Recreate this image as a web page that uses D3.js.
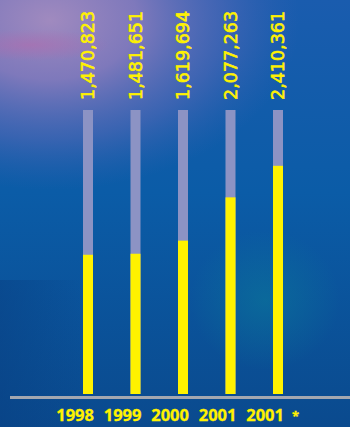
<!DOCTYPE html>
<html>
<head>
<meta charset="utf-8">
<script src="https://cdn.jsdelivr.net/npm/d3@7"></script>
<style>
  html, body { margin: 0; padding: 0; background: #0a5aa4; }
  #chart--wrap { width: 350px; height: 427px; }
  .value-label { font-family: 'DejaVu Sans', sans-serif; font-size: 17.5px; fill: #fff200; stroke: #fff200; stroke-width: 0.6px; }
  .year-label { font-family: 'Open Sans', Lato, sans-serif; font-weight: bold; font-size: 16.5px; fill: #fff200; stroke: #fff200; stroke-width: 0.3px; }
</style>
</head>
<body>
<div id="chart--wrap"></div>
<script>
const years = ['1998', '1999', '2000', '2001', '2001'];
const yearMarks = ['', '', '', '', '*'];
const totals = [1470823, 1481651, 1619694, 2077263, 2410361];
const yMax = 3000000;

const width = 350;
const height = 427;
const margin = { top: 110, bottom: 33, left: 88, right: 72 };
const barWidth = 10;

const wrap = d3.select('#chart--wrap');
const svg = wrap.append('svg')
  .attr('width', width)
  .attr('height', height);

// Background
const defs = svg.append('defs');

const baseGrad = defs.append('linearGradient')
  .attr('id', 'bg-base')
  .attr('x1', 0).attr('y1', 0).attr('x2', 0).attr('y2', 1);
baseGrad.append('stop').attr('offset', '0%').attr('stop-color', '#1a5cae');
baseGrad.append('stop').attr('offset', '45%').attr('stop-color', '#0b5ca7');
baseGrad.append('stop').attr('offset', '100%').attr('stop-color', '#0a4a8e');

const purple = defs.append('radialGradient')
  .attr('id', 'bg-purple')
  .attr('cx', 0.5).attr('cy', 0.5).attr('r', 0.5);
purple.append('stop').attr('offset', '0%').attr('stop-color', '#a08abf').attr('stop-opacity', 1);
purple.append('stop').attr('offset', '35%').attr('stop-color', '#8a7cbd').attr('stop-opacity', 0.9);
purple.append('stop').attr('offset', '70%').attr('stop-color', '#5a6ab8').attr('stop-opacity', 0.55);
purple.append('stop').attr('offset', '100%').attr('stop-color', '#3a62b2').attr('stop-opacity', 0);

const pink = defs.append('radialGradient')
  .attr('id', 'bg-pink')
  .attr('cx', 0.5).attr('cy', 0.5).attr('r', 0.5);
pink.append('stop').attr('offset', '0%').attr('stop-color', '#b06cae').attr('stop-opacity', 0.6);
pink.append('stop').attr('offset', '100%').attr('stop-color', '#b06cae').attr('stop-opacity', 0);

const teal = defs.append('radialGradient')
  .attr('id', 'bg-teal')
  .attr('cx', 0.5).attr('cy', 0.5).attr('r', 0.5);
teal.append('stop').attr('offset', '0%').attr('stop-color', '#0a7a9a').attr('stop-opacity', 0.55);
teal.append('stop').attr('offset', '100%').attr('stop-color', '#0a7a9a').attr('stop-opacity', 0);

const leftShade = defs.append('linearGradient')
  .attr('id', 'bg-left')
  .attr('x1', 0).attr('y1', 0).attr('x2', 1).attr('y2', 0);
leftShade.append('stop').attr('offset', '0%').attr('stop-color', '#083f82').attr('stop-opacity', 0.5);
leftShade.append('stop').attr('offset', '100%').attr('stop-color', '#083f82').attr('stop-opacity', 0);

svg.append('rect').attr('width', width).attr('height', height).attr('fill', 'url(#bg-base)');
svg.append('rect').attr('y', 280).attr('width', 90).attr('height', 147).attr('fill', 'url(#bg-left)');
svg.append('ellipse').attr('cx', 50).attr('cy', 20).attr('rx', 250).attr('ry', 170).attr('fill', 'url(#bg-purple)');
svg.append('ellipse').attr('cx', 30).attr('cy', 45).attr('rx', 80).attr('ry', 16).attr('fill', 'url(#bg-pink)');
svg.append('ellipse').attr('cx', 265).attr('cy', 300).attr('rx', 75).attr('ry', 70).attr('fill', 'url(#bg-teal)');

// Scales
const x = d3.scalePoint()
  .domain(d3.range(totals.length))
  .range([margin.left, width - margin.right]);

const y = d3.scaleLinear()
  .domain([0, yMax])
  .range([height - margin.bottom, margin.top]);

const group = svg.append('g');

// Track bars
group.selectAll('.track')
  .data(totals)
  .enter()
  .append('rect')
  .attr('class', 'track')
  .attr('x', (d, i) => x(i) - barWidth / 2)
  .attr('y', y(yMax))
  .attr('width', barWidth)
  .attr('height', y(0) - y(yMax))
  .attr('fill', '#8c93c4');

// Value bars
group.selectAll('.bar')
  .data(totals)
  .enter()
  .append('rect')
  .attr('class', 'bar')
  .attr('x', (d, i) => x(i) - barWidth / 2)
  .attr('y', d => y(d))
  .attr('width', barWidth)
  .attr('height', d => y(0) - y(d))
  .attr('fill', '#fff200');

// Value labels
const fmt = d3.format(',');
group.selectAll('.value-label')
  .data(totals)
  .enter()
  .append('text')
  .attr('class', 'value-label')
  .attr('transform', (d, i) => `translate(${x(i) + barWidth / 2 + 1}, ${y(yMax) - 10}) rotate(-90)`)
  .attr('text-anchor', 'start')
  .text(d => fmt(d));

// Axis line
svg.append('rect')
  .attr('x', 10)
  .attr('y', y(0) + 2)
  .attr('width', width - 10)
  .attr('height', 3)
  .attr('fill', '#a3a7b0');

// Year labels
group.selectAll('.year-label')
  .data(years)
  .enter()
  .append('text')
  .attr('class', 'year-label')
  .attr('x', (d, i) => x(i) + barWidth / 2 + 1)
  .attr('y', height - 6)
  .attr('text-anchor', 'end')
  .text(d => d);

group.selectAll('.year-mark')
  .data(yearMarks)
  .enter()
  .append('text')
  .attr('class', 'year-label')
  .attr('x', (d, i) => x(i) + barWidth / 2 + 9)
  .attr('y', height - 6)
  .style('font-size', '13px')
  .text(d => d);
</script>
</body>
</html>
